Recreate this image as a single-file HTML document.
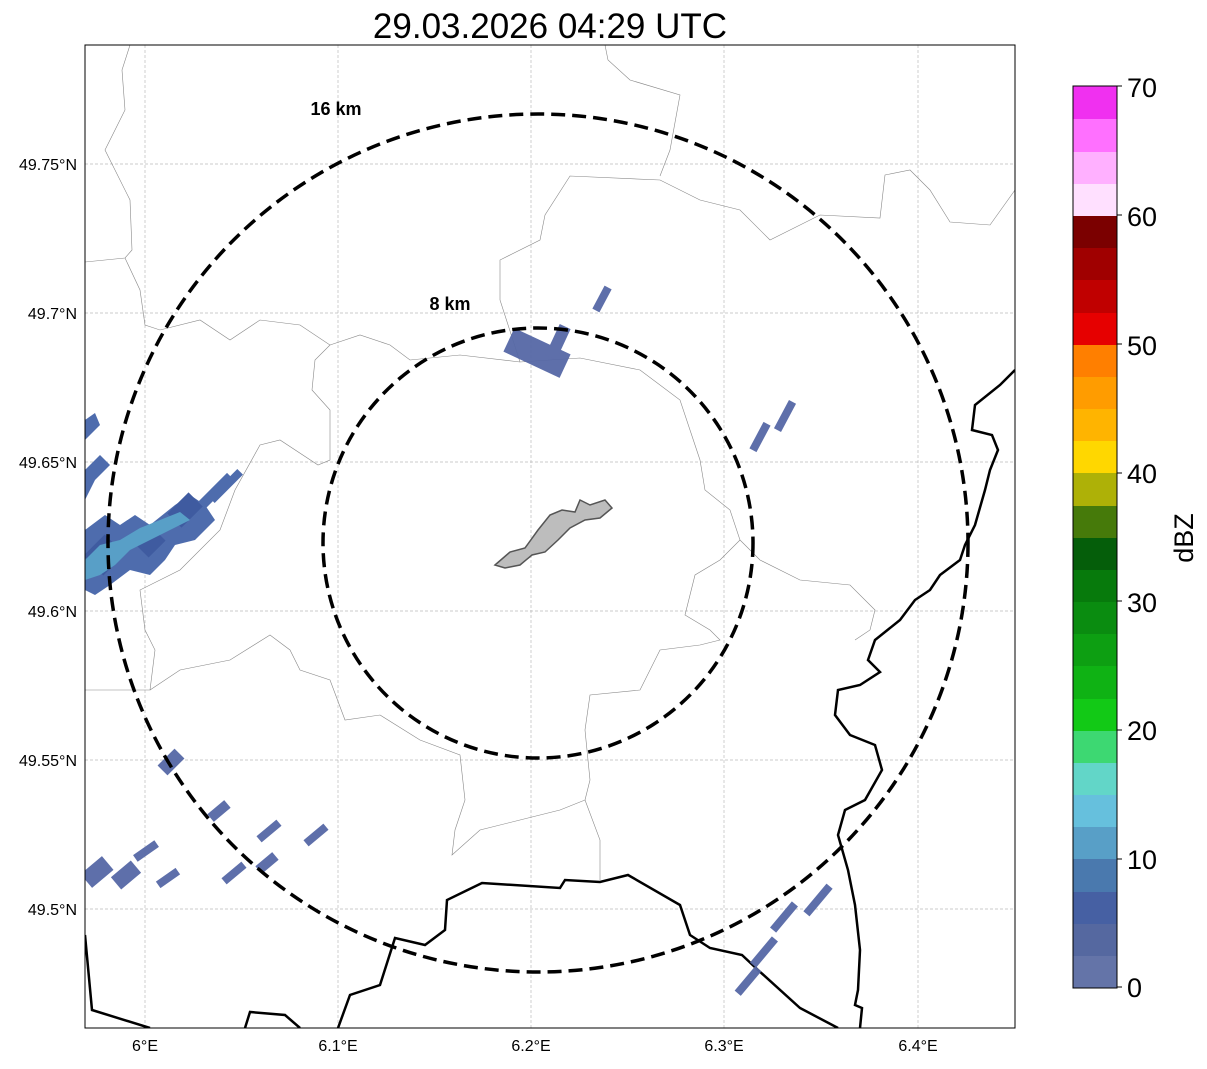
<!DOCTYPE html>
<html><head><meta charset="utf-8"><style>
body{margin:0;background:#fff;width:1207px;height:1064px;overflow:hidden;font-family:"Liberation Sans",sans-serif}
</style></head><body>
<svg width="1207" height="1064" xmlns="http://www.w3.org/2000/svg" font-family="Liberation Sans, sans-serif">
<rect width="1207" height="1064" fill="#fff"/>
<text x="550" y="38" font-size="35" text-anchor="middle">29.03.2026 04:29 UTC</text>
<defs><clipPath id="c"><rect x="85" y="45" width="930" height="983"/></clipPath></defs>
<g clip-path="url(#c)">
<g stroke="#bbb" stroke-width="0.7" stroke-dasharray="3,2">
<line x1="145" y1="45" x2="145" y2="1028"/><line x1="338" y1="45" x2="338" y2="1028"/><line x1="531" y1="45" x2="531" y2="1028"/><line x1="724" y1="45" x2="724" y2="1028"/><line x1="918" y1="45" x2="918" y2="1028"/>
<line x1="85" y1="164" x2="1015" y2="164"/><line x1="85" y1="313" x2="1015" y2="313"/><line x1="85" y1="462" x2="1015" y2="462"/><line x1="85" y1="611" x2="1015" y2="611"/><line x1="85" y1="760" x2="1015" y2="760"/><line x1="85" y1="909" x2="1015" y2="909"/>
</g>
<g fill="none" stroke="#888" stroke-width="0.6">
<path d="M130,45 L122,70 L125,110 L105,150 L130,200 L132,250 L125,258 L85,262"/>
<path d="M125,258 L140,290 L145,325 L160,330 L200,320 L230,340 L260,320 L300,325 L330,345 L315,360 L312,390 L330,410 L330,460 L318,465 L280,440 L260,445 L235,490 L220,530 L180,570 L140,590 L145,630 L155,650 L150,690 L85,690"/>
<path d="M330,345 L360,335 L390,345 L410,360 L460,355 L520,362 L580,358 L640,370 L680,400 L690,430 L700,460 L705,490 L730,510 L740,540 L720,560 L695,575 L685,615 L710,630 L720,640 L700,645 L660,650 L640,690 L590,695 L585,730 L590,780 L585,800 L600,840 L600,880"/>
<path d="M520,362 L500,300 L500,260 L540,240 L545,215 L570,176 L660,180 L700,200 L740,210 L770,240 L820,215 L880,218 L885,175 L910,170 L930,190 L950,222 L990,225 L1015,190"/>
<path d="M605,45 L608,60 L630,80 L680,95 L670,150 L660,176"/>
<path d="M150,690 L180,670 L230,660 L270,635 L290,650 L300,670 L330,680 L345,720 L380,715 L420,740 L460,755 L465,800 L455,830 L452,855 L480,830 L520,820 L560,810 L585,800"/>
<path d="M740,540 L760,560 L800,580 L850,585 L875,610 L870,630 L855,640"/>
</g>
<g fill="none" stroke="#000" stroke-width="2.5">
<path d="M1015,370 L1000,385 L975,405 L972,430 L992,435 L998,450 L990,470 L985,490 L975,525 L965,545 L960,560 L940,575 L930,590 L915,600 L900,620 L875,640 L868,660 L880,672 L860,685 L838,690 L835,715 L850,735 L875,745 L882,770 L865,800 L845,810 L838,835 L848,870 L855,905 L860,950 L858,990 L855,1005 L862,1008 L860,1028"/>
<path d="M338,1028 L350,995 L380,985 L395,938 L425,945 L445,930 L447,900 L482,883 L560,888 L565,880 L600,882 L628,875 L680,905 L690,935 L710,948 L742,955 L758,970 L800,1008 L838,1028"/>
<path d="M85,935 L92,1010 L150,1028"/>
<path d="M245,1028 L250,1012 L285,1015 L300,1028"/>
</g>
<g>
<g fill="#5668a6" opacity="0.95">
<rect x="506" y="340" width="62" height="26" transform="rotate(25 537 353)"/>
<rect x="552" y="325" width="12" height="34" transform="rotate(25 558 342)"/>
<rect x="598" y="286" width="8" height="26" transform="rotate(28 602 299)"/>
<rect x="756" y="422" width="8" height="30" transform="rotate(28 760 437)"/>
<rect x="781" y="400" width="8" height="32" transform="rotate(28 785 416)"/>
<rect x="760" y="935" width="8" height="34" transform="rotate(40 764 952)"/>
<rect x="780" y="900" width="8" height="34" transform="rotate(40 784 917)"/>
<rect x="814" y="882" width="8" height="36" transform="rotate(40 818 900)"/>
<rect x="744" y="965" width="8" height="32" transform="rotate(40 748 981)"/>
<rect x="164" y="750" width="14" height="24" transform="rotate(45 171 762)"/>
<rect x="214" y="800" width="10" height="22" transform="rotate(50 219 811)"/>
<rect x="265" y="818" width="8" height="26" transform="rotate(50 269 831)"/>
<rect x="312" y="822" width="8" height="26" transform="rotate(50 316 835)"/>
<rect x="230" y="860" width="8" height="26" transform="rotate(50 234 873)"/>
<rect x="262" y="852" width="10" height="22" transform="rotate(50 267 863)"/>
<rect x="142" y="838" width="8" height="26" transform="rotate(55 146 851)"/>
<rect x="164" y="866" width="8" height="24" transform="rotate(55 168 878)"/>
<rect x="118" y="862" width="16" height="26" transform="rotate(50 126 875)"/>
<rect x="88" y="858" width="18" height="28" transform="rotate(50 97 872)"/>
</g>
<g fill="#4e6cad">
<polygon points="85,530 105,515 120,525 135,515 150,525 175,505 190,495 205,505 215,520 195,540 175,545 165,560 150,575 130,570 110,585 95,595 85,590"/>
<polygon points="85,420 95,413 100,425 85,440"/>
<polygon points="85,470 100,455 110,465 95,480 85,500"/>
<rect x="210" y="470" width="10" height="45" transform="rotate(45 215 492)"/>
<rect x="222" y="466" width="8" height="40" transform="rotate(45 226 486)"/>
</g>
<g fill="#3f5ba0">
<rect x="90" y="540" width="28" height="30" transform="rotate(45 104 555)"/>
<rect x="140" y="530" width="20" height="24" transform="rotate(45 150 542)"/>
<rect x="175" y="495" width="20" height="30" transform="rotate(45 185 510)"/>
</g>
<g fill="#589fc7">
<polygon points="85,560 100,545 120,540 140,528 160,520 180,512 190,520 170,530 150,540 130,550 115,565 100,575 85,580"/>
</g>
</g>
<ellipse cx="538" cy="543" rx="215" ry="215" fill="none" stroke="#000" stroke-width="3.5" stroke-dasharray="14,7"/>
<ellipse cx="538" cy="543" rx="430" ry="429" fill="none" stroke="#000" stroke-width="3.5" stroke-dasharray="14,7"/>
<polygon points="495,565 510,552 525,548 538,530 550,515 562,510 575,512 580,500 590,505 605,500 612,508 600,518 585,520 570,528 558,540 545,552 532,555 520,565 505,568" fill="#bdbdbd" stroke="#555" stroke-width="1.5"/>
</g>
<rect x="85" y="45" width="930" height="983" fill="none" stroke="#000" stroke-width="1"/>
<text x="336" y="115" font-size="18" font-weight="bold" text-anchor="middle">16 km</text>
<text x="450" y="310" font-size="18" font-weight="bold" text-anchor="middle">8 km</text>
<g font-size="16" text-anchor="end">
<text x="77" y="170">49.75°N</text><text x="77" y="319">49.7°N</text><text x="77" y="468">49.65°N</text><text x="77" y="617">49.6°N</text><text x="77" y="766">49.55°N</text><text x="77" y="915">49.5°N</text>
</g>
<g font-size="16" text-anchor="middle">
<text x="145" y="1051">6°E</text><text x="338" y="1051">6.1°E</text><text x="531" y="1051">6.2°E</text><text x="724" y="1051">6.3°E</text><text x="918" y="1051">6.4°E</text>
</g>
<g>
<rect x="1073" y="955" width="44" height="33" fill="#6474a8"/>
<rect x="1073" y="923" width="44" height="33" fill="#5568a0"/>
<rect x="1073" y="891" width="44" height="33" fill="#4660a3"/>
<rect x="1073" y="859" width="44" height="33" fill="#4a79ae"/>
<rect x="1073" y="826" width="44" height="33" fill="#589fc7"/>
<rect x="1073" y="794" width="44" height="33" fill="#66c0dd"/>
<rect x="1073" y="762" width="44" height="33" fill="#62d6c8"/>
<rect x="1073" y="730" width="44" height="33" fill="#3dd872"/>
<rect x="1073" y="698" width="44" height="33" fill="#12c916"/>
<rect x="1073" y="666" width="44" height="33" fill="#0fb214"/>
<rect x="1073" y="633" width="44" height="33" fill="#0d9f12"/>
<rect x="1073" y="601" width="44" height="33" fill="#0a8c10"/>
<rect x="1073" y="569" width="44" height="33" fill="#077a0c"/>
<rect x="1073" y="537" width="44" height="33" fill="#055e0a"/>
<rect x="1073" y="505" width="44" height="33" fill="#467a0a"/>
<rect x="1073" y="473" width="44" height="33" fill="#aeb107"/>
<rect x="1073" y="440" width="44" height="33" fill="#ffd700"/>
<rect x="1073" y="408" width="44" height="33" fill="#ffb400"/>
<rect x="1073" y="376" width="44" height="33" fill="#ff9c00"/>
<rect x="1073" y="344" width="44" height="33" fill="#ff7f00"/>
<rect x="1073" y="312" width="44" height="33" fill="#e60000"/>
<rect x="1073" y="280" width="44" height="33" fill="#c00000"/>
<rect x="1073" y="247" width="44" height="33" fill="#a00000"/>
<rect x="1073" y="215" width="44" height="33" fill="#7b0000"/>
<rect x="1073" y="183" width="44" height="33" fill="#ffe0ff"/>
<rect x="1073" y="151" width="44" height="33" fill="#ffb0ff"/>
<rect x="1073" y="119" width="44" height="33" fill="#ff70ff"/>
<rect x="1073" y="86" width="44" height="33" fill="#f030f0"/>
<rect x="1073" y="86" width="44" height="902" fill="none" stroke="#000" stroke-width="1"/>
</g>
<g font-size="27">
<text x="1127" y="997">0</text><text x="1127" y="869">10</text><text x="1127" y="740">20</text><text x="1127" y="612">30</text><text x="1127" y="483">40</text><text x="1127" y="355">50</text><text x="1127" y="226">60</text><text x="1127" y="97">70</text>
</g>
<g stroke="#000"><line x1="1117" y1="987" x2="1122" y2="987"/><line x1="1117" y1="859" x2="1122" y2="859"/><line x1="1117" y1="730" x2="1122" y2="730"/><line x1="1117" y1="601" x2="1122" y2="601"/><line x1="1117" y1="473" x2="1122" y2="473"/><line x1="1117" y1="344" x2="1122" y2="344"/><line x1="1117" y1="215" x2="1122" y2="215"/><line x1="1117" y1="86" x2="1122" y2="86"/></g>
<text x="1193" y="538" font-size="27" text-anchor="middle" transform="rotate(-90 1193 538)">dBZ</text>
</svg>
</body></html>
